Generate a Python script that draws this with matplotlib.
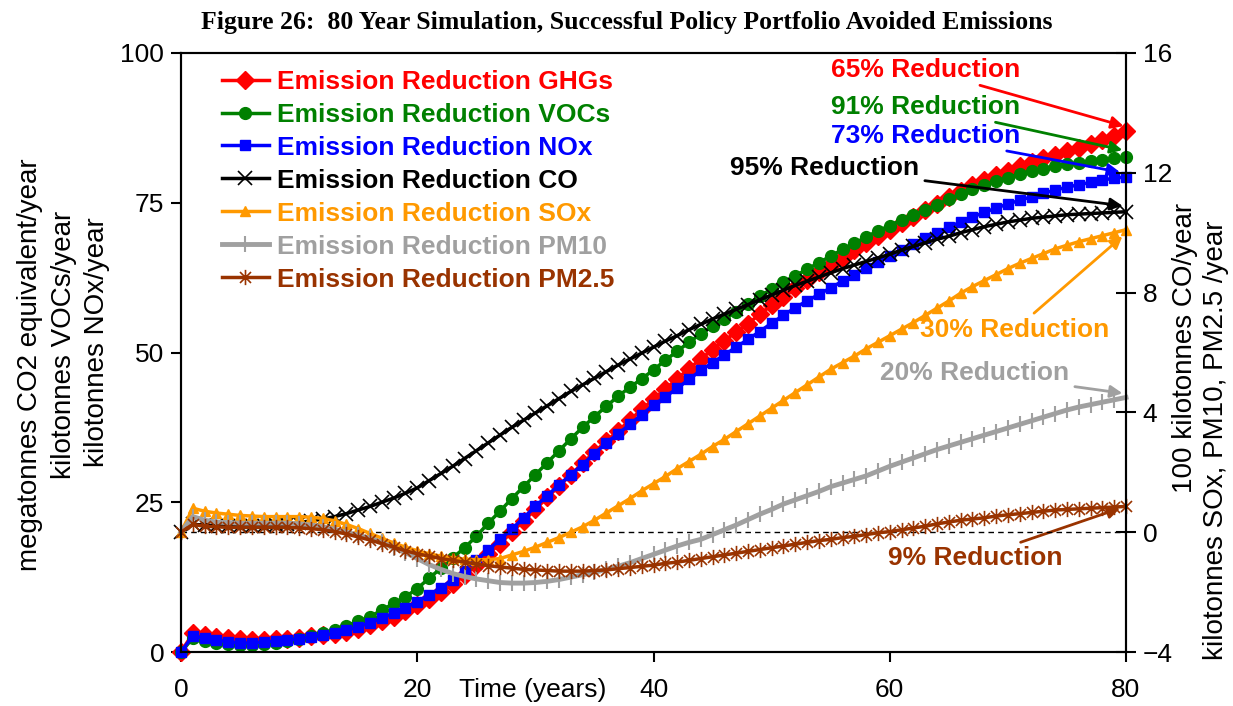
import matplotlib
matplotlib.use("Agg")
import matplotlib.pyplot as plt
from matplotlib.path import Path
import numpy as np

# ---------------- data ----------------
years = list(range(0, 81))

# left axis: megatonnes CO2e / kilotonnes VOCs / kilotonnes NOx
ghg = [0, 3.1, 2.8, 2.5, 2.3, 2.1, 2.0, 2.0, 2.1, 2.2,
       2.4, 2.7, 2.9, 3.0, 3.4, 3.9, 4.5, 5.1, 5.9, 6.8,
       7.8, 8.8, 10.0, 11.3, 12.8, 14.5, 16.3, 18.1, 20.0, 21.9,
       23.8, 25.8, 27.7, 29.6, 31.5, 33.4, 35.2, 36.9, 38.7, 40.5,
       42.2, 43.9, 45.6, 47.3, 48.9, 50.5, 52.0, 53.4, 54.8, 56.4,
       57.9, 59.3, 60.7, 62.1, 63.4, 64.6, 65.8, 67.1, 68.3, 69.4,
       70.5, 71.6, 72.7, 73.8, 74.8, 75.9, 77.0, 77.9, 78.8, 79.6,
       80.3, 81.1, 81.8, 82.4, 83.0, 83.6, 84.2, 84.8, 85.5, 86.2,
       86.9]
vocs = [0, 2.3, 1.8, 1.5, 1.3, 1.2, 1.2, 1.3, 1.5, 1.8,
        2.2, 2.6, 3.1, 3.7, 4.4, 5.1, 5.9, 7.0, 8.1, 9.2,
        10.6, 12.3, 14.0, 15.7, 17.4, 19.3, 21.5, 23.5, 25.6, 27.6,
        29.6, 31.6, 33.6, 35.6, 37.5, 39.3, 41.0, 42.7, 44.2, 45.6,
        47.1, 48.7, 50.2, 51.7, 53.1, 54.4, 55.6, 56.8, 58.1, 59.4,
        60.6, 61.7, 62.8, 63.9, 65.0, 66.1, 67.2, 68.2, 69.3, 70.3,
        71.2, 72.1, 73.0, 73.8, 74.7, 75.6, 76.5, 77.3, 78.0, 78.6,
        79.2, 79.8, 80.3, 80.7, 81.1, 81.4, 81.7, 82.0, 82.2, 82.4,
        82.6]
nox = [0, 2.7, 2.3, 2.0, 1.7, 1.5, 1.5, 1.7, 1.8, 2.0,
       2.2, 2.5, 2.8, 3.1, 3.6, 4.2, 4.9, 5.6, 6.5, 7.4,
       8.4, 9.5, 10.7, 12.1, 13.6, 15.3, 17.0, 18.8, 20.5, 22.4,
       24.3, 26.1, 27.9, 29.6, 31.3, 33.1, 34.9, 36.4, 38.0, 39.6,
       41.2, 42.6, 44.0, 45.5, 47.0, 48.3, 49.6, 50.9, 52.2, 53.5,
       54.9, 56.2, 57.5, 58.6, 59.7, 60.8, 61.9, 63.0, 64.1, 65.1,
       66.1, 67.1, 68.1, 69.1, 70.0, 70.9, 71.8, 72.6, 73.4, 74.1,
       74.8, 75.4, 76.0, 76.6, 77.1, 77.6, 78.0, 78.4, 78.8, 79.1,
       79.3]

# right axis: 100 kilotonnes CO / kilotonnes SOx, PM10, PM2.5
co = [0.00, 0.26, 0.24, 0.22, 0.20, 0.20, 0.20, 0.22, 0.24, 0.28,
      0.32, 0.38, 0.44, 0.52, 0.62, 0.74, 0.86, 1.00, 1.14, 1.30,
      1.48, 1.72, 1.96, 2.20, 2.46, 2.72, 2.98, 3.24, 3.50, 3.74,
      3.98, 4.22, 4.46, 4.70, 4.92, 5.14, 5.36, 5.58, 5.78, 5.98,
      6.18, 6.38, 6.56, 6.76, 6.94, 7.12, 7.28, 7.44, 7.60, 7.76,
      7.92, 8.08, 8.24, 8.38, 8.52, 8.66, 8.80, 8.92, 9.04, 9.16,
      9.28, 9.42, 9.54, 9.66, 9.78, 9.88, 10.00, 10.10, 10.20, 10.28,
      10.36, 10.42, 10.48, 10.52, 10.56, 10.60, 10.62, 10.64, 10.66, 10.68,
      10.70]
sox = [0.00, 0.80, 0.70, 0.64, 0.60, 0.56, 0.54, 0.52, 0.52, 0.52,
       0.52, 0.50, 0.46, 0.38, 0.26, 0.12, -0.04, -0.20, -0.36, -0.50,
       -0.62, -0.72, -0.80, -0.86, -0.90, -0.92, -0.92, -0.88, -0.76, -0.64,
       -0.50, -0.34, -0.18, 0.00, 0.18, 0.40, 0.64, 0.88, 1.12, 1.38,
       1.62, 1.86, 2.12, 2.36, 2.60, 2.86, 3.10, 3.36, 3.62, 3.88,
       4.14, 4.40, 4.66, 4.92, 5.18, 5.44, 5.66, 5.88, 6.12, 6.34,
       6.56, 6.78, 7.00, 7.24, 7.48, 7.72, 7.98, 8.20, 8.40, 8.60,
       8.80, 8.98, 9.14, 9.30, 9.46, 9.58, 9.70, 9.80, 9.90, 10.00,
       10.10]
pm10 = [0.00, 0.52, 0.40, 0.34, 0.32, 0.30, 0.30, 0.30, 0.30, 0.30,
        0.28, 0.24, 0.18, 0.10, 0.00, -0.10, -0.20, -0.34, -0.52, -0.68,
        -0.88, -1.08, -1.24, -1.38, -1.48, -1.56, -1.62, -1.68, -1.70, -1.70,
        -1.68, -1.64, -1.58, -1.50, -1.42, -1.34, -1.24, -1.14, -1.02, -0.88,
        -0.74, -0.60, -0.46, -0.34, -0.24, -0.08, 0.08, 0.24, 0.42, 0.60,
        0.76, 0.94, 1.08, 1.22, 1.36, 1.52, 1.64, 1.76, 1.88, 2.04,
        2.20, 2.34, 2.48, 2.62, 2.76, 2.88, 3.00, 3.12, 3.24, 3.36,
        3.48, 3.60, 3.72, 3.84, 3.96, 4.08, 4.18, 4.26, 4.34, 4.42,
        4.50]
pm25 = [0.00, 0.26, 0.20, 0.18, 0.16, 0.16, 0.16, 0.16, 0.16, 0.16,
        0.14, 0.12, 0.08, 0.02, -0.06, -0.16, -0.26, -0.38, -0.50, -0.62,
        -0.72, -0.80, -0.88, -0.94, -1.00, -1.06, -1.12, -1.16, -1.20, -1.24,
        -1.26, -1.28, -1.30, -1.30, -1.30, -1.28, -1.26, -1.22, -1.18, -1.14,
        -1.10, -1.04, -1.00, -0.94, -0.88, -0.82, -0.76, -0.70, -0.64, -0.58,
        -0.52, -0.46, -0.40, -0.34, -0.28, -0.24, -0.18, -0.14, -0.08, -0.02,
        0.02, 0.08, 0.14, 0.20, 0.28, 0.34, 0.40, 0.44, 0.48, 0.54,
        0.58, 0.62, 0.66, 0.70, 0.74, 0.76, 0.78, 0.80, 0.82, 0.84,
        0.86]

left_ticks = [0, 25, 50, 75, 100]
right_ticks = [-4, 0, 4, 8, 12, 16]
x_ticks = [0, 20, 40, 60, 80]

# ---------------- style ----------------
plt.rcParams["font.family"] = ["Liberation Sans", "DejaVu Sans"]
FS = 19

RED = "#FF0000"
GREEN = "#008000"
BLUE = "#0000FF"
BLACK = "#000000"
ORANGE = "#FF9900"
GRAY = "#A0A0A0"
BROWN = "#993300"

star = Path([(0, -1), (0, 1), (-0.72, -0.72), (0.72, 0.72), (-0.72, 0.72), (0.72, -0.72)],
            [Path.MOVETO, Path.LINETO] * 3)

fig = plt.figure(figsize=(12.33, 7.06), dpi=100)
ax = fig.add_axes([181 / 1233, 1 - 652 / 706, 945 / 1233, 599 / 706])
ax2 = ax.twinx()

handles = []
handles += ax.plot(years, ghg, color=RED, lw=2.5, marker="D", ms=9, mec=RED,
                   clip_on=False, label="Emission Reduction GHGs")
handles += ax.plot(years, vocs, color=GREEN, lw=2.5, marker="o", ms=8.5, mec=GREEN,
                   clip_on=False, label="Emission Reduction VOCs")
handles += ax.plot(years, nox, color=BLUE, lw=2.5, marker="s", ms=6.5, mec=BLUE,
                   clip_on=False, label="Emission Reduction NOx")
handles += ax2.plot(years, co, color=BLACK, lw=2.5, marker="x", ms=10, mew=1.2,
                    clip_on=False, label="Emission Reduction CO")
handles += ax2.plot(years, sox, color=ORANGE, lw=2.5, marker="^", ms=7.5, mec=ORANGE,
                    clip_on=False, label="Emission Reduction SOx")
handles += ax2.plot(years, pm10, color=GRAY, lw=3.5, marker="|", ms=11, mew=1.5,
                    clip_on=False, label="Emission Reduction PM10")
handles += ax2.plot(years, pm25, color=BROWN, lw=2.5, marker=star, ms=11, mew=1.2,
                    clip_on=False, label="Emission Reduction PM2.5")

# dashed zero line of the right axis
ax2.axhline(0, color="black", lw=1, ls=(0, (4, 3)), zorder=0)

ax.set_xlim(0, 80)
ax.set_ylim(0, 100)
ax2.set_ylim(-4, 16)
ax.set_xticks(x_ticks)
ax.set_yticks(left_ticks)
ax2.set_yticks(right_ticks)

ax.tick_params(axis="x", direction="out", length=7, width=1.5, pad=12, labelsize=FS)
ax.tick_params(axis="y", direction="out", length=7, width=1.5, pad=5, labelsize=FS)
ax2.tick_params(axis="y", direction="inout", length=14, width=1.5, pad=5, labelsize=FS)
for a in (ax, ax2):
    for sp in a.spines.values():
        sp.set_linewidth(1.5)

# left-hand axis title, three lines
fig.text(30 / 1233, 1 - 365 / 706, "megatonnes CO2 equivalent/year",
         fontsize=20, rotation=90, ha="center", va="center")
fig.text(64 / 1233, 1 - 345 / 706, "kilotonnes VOCs/year",
         fontsize=20, rotation=90, ha="center", va="center")
fig.text(97 / 1233, 1 - 342 / 706, "kilotonnes NOx/year",
         fontsize=20, rotation=90, ha="center", va="center")

# right-hand axis title, two lines
fig.text(1185 / 1233, 1 - 348 / 706, "100 kilotonnes CO/year",
         fontsize=20, rotation=90, ha="center", va="center")
fig.text(1216 / 1233, 1 - 440 / 706, "kilotonnes SOx, PM10, PM2.5 /year",
         fontsize=20, rotation=90, ha="center", va="center")

fig.text(533 / 1233, 1 - 690 / 706, "Time (years)", fontsize=FS, ha="center", va="center")

fig.text(627 / 1233, 1 - 22 / 706,
         "Figure 26:  80 Year Simulation, Successful Policy Portfolio Avoided Emissions",
         family="Liberation Serif", fontweight="bold", fontsize=18.5, ha="center", va="center")

leg = ax2.legend(handles=handles, loc="upper left", bbox_to_anchor=(0.043, 0.972),
                 frameon=False, borderpad=0, borderaxespad=0, handlelength=1.8,
                 handletextpad=0.3, labelspacing=0.34, labelcolor="linecolor",
                 prop={"weight": "bold", "size": FS})

# reduction call-outs (text position and arrow tip, in years / left-axis units)
notes = [
    ("65% Reduction", RED, (63.0, 97.2), (79.8, 87.8)),
    ("91% Reduction", GREEN, (63.0, 91.0), (79.7, 83.8)),
    ("73% Reduction", BLUE, (63.0, 86.2), (79.5, 80.1)),
    ("95% Reduction", BLACK, (54.5, 80.8), (79.7, 74.5)),
    ("30% Reduction", ORANGE, (70.6, 53.8), (79.7, 69.4)),
    ("20% Reduction", GRAY, (67.2, 46.6), (79.7, 43.2)),
    ("9% Reduction", BROWN, (67.2, 15.7), (79.5, 24.0)),
]
for txt, col, xyt, xy in notes:
    ax.annotate(txt, xy=xy, xytext=xyt, color=col, fontsize=FS, fontweight="bold",
                ha="center", va="center", zorder=10, annotation_clip=False,
                arrowprops=dict(arrowstyle="-|>", color=col, lw=2, mutation_scale=18,
                                shrinkA=2, shrinkB=0))

fig.savefig("out.png", dpi=100)
